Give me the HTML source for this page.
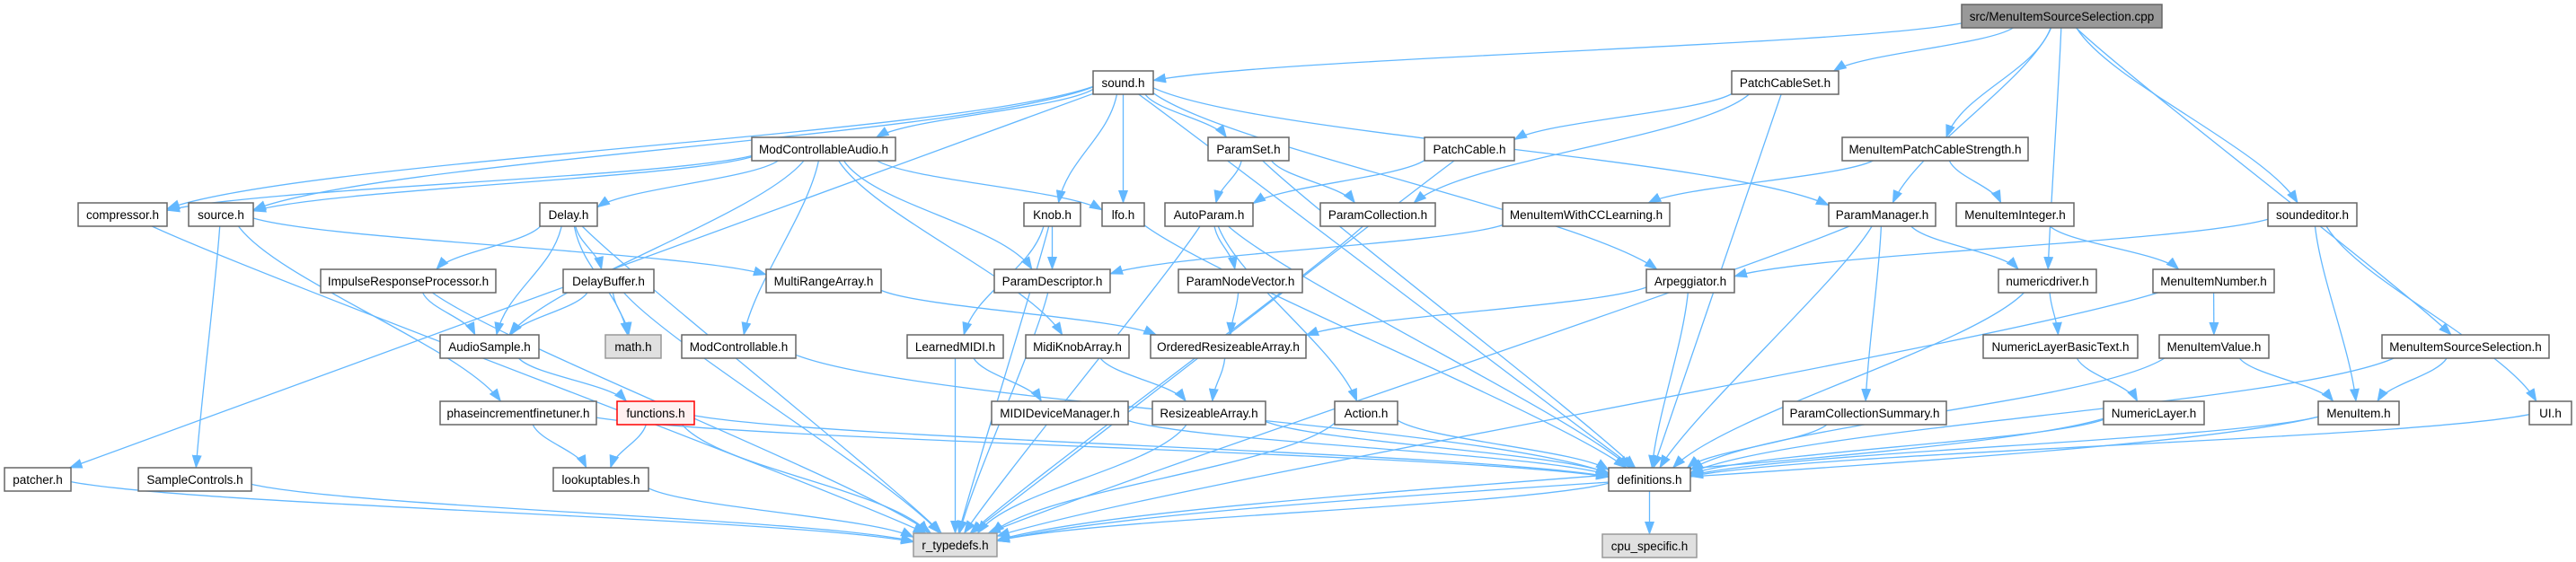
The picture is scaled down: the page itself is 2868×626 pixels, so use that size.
<!DOCTYPE html>
<html><head><meta charset="utf-8"><style>
html,body{margin:0;padding:0;background:#fff;}
svg{display:block;}
text{font-family:"Liberation Sans",Arial,sans-serif;font-size:13.5px;fill:#000;}
</style></head><body>
<svg id="g" width="2868" height="626" viewBox="0 0 2868 626" xmlns="http://www.w3.org/2000/svg">
<defs><marker id="a" markerWidth="15" markerHeight="11" refX="14" refY="5.5" orient="auto" markerUnits="userSpaceOnUse"><path d="M0,0 L15,5.5 L0,11 z" fill="#63b8ff"/></marker></defs>
<g id="edges" fill="none" stroke="#63b8ff" stroke-width="1.3"></g>
<g id="nodes">
<rect x="2184" y="5" width="223" height="26" fill="#999" stroke="#666" stroke-width="1.5"/><text x="2295.5" y="23" text-anchor="middle">src/MenuItemSourceSelection.cpp</text>
<rect x="1217" y="79" width="67" height="26" fill="#fff" stroke="#666" stroke-width="1.5"/><text x="1250.5" y="97" text-anchor="middle">sound.h</text>
<rect x="1928" y="79" width="119" height="26" fill="#fff" stroke="#666" stroke-width="1.5"/><text x="1987.5" y="97" text-anchor="middle">PatchCableSet.h</text>
<rect x="837" y="153" width="160" height="26" fill="#fff" stroke="#666" stroke-width="1.5"/><text x="917" y="171" text-anchor="middle">ModControllableAudio.h</text>
<rect x="1345" y="153" width="90" height="26" fill="#fff" stroke="#666" stroke-width="1.5"/><text x="1390" y="171" text-anchor="middle">ParamSet.h</text>
<rect x="1586" y="153" width="100" height="26" fill="#fff" stroke="#666" stroke-width="1.5"/><text x="1636" y="171" text-anchor="middle">PatchCable.h</text>
<rect x="2051" y="153" width="207" height="26" fill="#fff" stroke="#666" stroke-width="1.5"/><text x="2154.5" y="171" text-anchor="middle">MenuItemPatchCableStrength.h</text>
<rect x="87" y="226" width="99" height="26" fill="#fff" stroke="#666" stroke-width="1.5"/><text x="136.5" y="244" text-anchor="middle">compressor.h</text>
<rect x="210" y="226" width="72" height="26" fill="#fff" stroke="#666" stroke-width="1.5"/><text x="246" y="244" text-anchor="middle">source.h</text>
<rect x="601" y="226" width="64" height="26" fill="#fff" stroke="#666" stroke-width="1.5"/><text x="633" y="244" text-anchor="middle">Delay.h</text>
<rect x="1140" y="226" width="63" height="26" fill="#fff" stroke="#666" stroke-width="1.5"/><text x="1171.5" y="244" text-anchor="middle">Knob.h</text>
<rect x="1227" y="226" width="47" height="26" fill="#fff" stroke="#666" stroke-width="1.5"/><text x="1250.5" y="244" text-anchor="middle">lfo.h</text>
<rect x="1297" y="226" width="98" height="26" fill="#fff" stroke="#666" stroke-width="1.5"/><text x="1346" y="244" text-anchor="middle">AutoParam.h</text>
<rect x="1470" y="226" width="128" height="26" fill="#fff" stroke="#666" stroke-width="1.5"/><text x="1534" y="244" text-anchor="middle">ParamCollection.h</text>
<rect x="1673" y="226" width="186" height="26" fill="#fff" stroke="#666" stroke-width="1.5"/><text x="1766" y="244" text-anchor="middle">MenuItemWithCCLearning.h</text>
<rect x="2036" y="226" width="119" height="26" fill="#fff" stroke="#666" stroke-width="1.5"/><text x="2095.5" y="244" text-anchor="middle">ParamManager.h</text>
<rect x="2178" y="226" width="131" height="26" fill="#fff" stroke="#666" stroke-width="1.5"/><text x="2243.5" y="244" text-anchor="middle">MenuItemInteger.h</text>
<rect x="2525" y="226" width="99" height="26" fill="#fff" stroke="#666" stroke-width="1.5"/><text x="2574.5" y="244" text-anchor="middle">soundeditor.h</text>
<rect x="357" y="300" width="195" height="26" fill="#fff" stroke="#666" stroke-width="1.5"/><text x="454.5" y="318" text-anchor="middle">ImpulseResponseProcessor.h</text>
<rect x="627" y="300" width="101" height="26" fill="#fff" stroke="#666" stroke-width="1.5"/><text x="677.5" y="318" text-anchor="middle">DelayBuffer.h</text>
<rect x="853" y="300" width="128" height="26" fill="#fff" stroke="#666" stroke-width="1.5"/><text x="917" y="318" text-anchor="middle">MultiRangeArray.h</text>
<rect x="1107" y="300" width="129" height="26" fill="#fff" stroke="#666" stroke-width="1.5"/><text x="1171.5" y="318" text-anchor="middle">ParamDescriptor.h</text>
<rect x="1312" y="300" width="138" height="26" fill="#fff" stroke="#666" stroke-width="1.5"/><text x="1381" y="318" text-anchor="middle">ParamNodeVector.h</text>
<rect x="1833" y="300" width="98" height="26" fill="#fff" stroke="#666" stroke-width="1.5"/><text x="1882" y="318" text-anchor="middle">Arpeggiator.h</text>
<rect x="2225" y="300" width="109" height="26" fill="#fff" stroke="#666" stroke-width="1.5"/><text x="2279.5" y="318" text-anchor="middle">numericdriver.h</text>
<rect x="2397" y="300" width="135" height="26" fill="#fff" stroke="#666" stroke-width="1.5"/><text x="2464.5" y="318" text-anchor="middle">MenuItemNumber.h</text>
<rect x="490" y="373" width="110" height="26" fill="#fff" stroke="#666" stroke-width="1.5"/><text x="545" y="391" text-anchor="middle">AudioSample.h</text>
<rect x="674" y="373" width="62" height="26" fill="#e0e0e0" stroke="#999" stroke-width="1.5"/><text x="705" y="391" text-anchor="middle">math.h</text>
<rect x="759" y="373" width="127" height="26" fill="#fff" stroke="#666" stroke-width="1.5"/><text x="822.5" y="391" text-anchor="middle">ModControllable.h</text>
<rect x="1010" y="373" width="107" height="26" fill="#fff" stroke="#666" stroke-width="1.5"/><text x="1063.5" y="391" text-anchor="middle">LearnedMIDI.h</text>
<rect x="1142" y="373" width="115" height="26" fill="#fff" stroke="#666" stroke-width="1.5"/><text x="1199.5" y="391" text-anchor="middle">MidiKnobArray.h</text>
<rect x="1281" y="373" width="173" height="26" fill="#fff" stroke="#666" stroke-width="1.5"/><text x="1367.5" y="391" text-anchor="middle">OrderedResizeableArray.h</text>
<rect x="2208" y="373" width="172" height="26" fill="#fff" stroke="#666" stroke-width="1.5"/><text x="2294" y="391" text-anchor="middle">NumericLayerBasicText.h</text>
<rect x="2404" y="373" width="122" height="26" fill="#fff" stroke="#666" stroke-width="1.5"/><text x="2465" y="391" text-anchor="middle">MenuItemValue.h</text>
<rect x="2652" y="373" width="186" height="26" fill="#fff" stroke="#666" stroke-width="1.5"/><text x="2745" y="391" text-anchor="middle">MenuItemSourceSelection.h</text>
<rect x="490" y="447" width="174" height="26" fill="#fff" stroke="#666" stroke-width="1.5"/><text x="577" y="465" text-anchor="middle">phaseincrementfinetuner.h</text>
<rect x="687" y="447" width="86" height="26" fill="#fff0f0" stroke="#f00" stroke-width="1.5"/><text x="730" y="465" text-anchor="middle">functions.h</text>
<rect x="1104" y="447" width="152" height="26" fill="#fff" stroke="#666" stroke-width="1.5"/><text x="1180" y="465" text-anchor="middle">MIDIDeviceManager.h</text>
<rect x="1283" y="447" width="126" height="26" fill="#fff" stroke="#666" stroke-width="1.5"/><text x="1346" y="465" text-anchor="middle">ResizeableArray.h</text>
<rect x="1486" y="447" width="70" height="26" fill="#fff" stroke="#666" stroke-width="1.5"/><text x="1521" y="465" text-anchor="middle">Action.h</text>
<rect x="1985" y="447" width="182" height="26" fill="#fff" stroke="#666" stroke-width="1.5"/><text x="2076" y="465" text-anchor="middle">ParamCollectionSummary.h</text>
<rect x="2342" y="447" width="112" height="26" fill="#fff" stroke="#666" stroke-width="1.5"/><text x="2398" y="465" text-anchor="middle">NumericLayer.h</text>
<rect x="2581" y="447" width="90" height="26" fill="#fff" stroke="#666" stroke-width="1.5"/><text x="2626" y="465" text-anchor="middle">MenuItem.h</text>
<rect x="2816" y="447" width="47" height="26" fill="#fff" stroke="#666" stroke-width="1.5"/><text x="2839.5" y="465" text-anchor="middle">UI.h</text>
<rect x="5" y="521" width="74" height="26" fill="#fff" stroke="#666" stroke-width="1.5"/><text x="42" y="539" text-anchor="middle">patcher.h</text>
<rect x="154" y="521" width="126" height="26" fill="#fff" stroke="#666" stroke-width="1.5"/><text x="217" y="539" text-anchor="middle">SampleControls.h</text>
<rect x="616" y="521" width="106" height="26" fill="#fff" stroke="#666" stroke-width="1.5"/><text x="669" y="539" text-anchor="middle">lookuptables.h</text>
<rect x="1791" y="521" width="91" height="26" fill="#fff" stroke="#666" stroke-width="1.5"/><text x="1836.5" y="539" text-anchor="middle">definitions.h</text>
<rect x="1017" y="594" width="93" height="26" fill="#e0e0e0" stroke="#999" stroke-width="1.5"/><text x="1063.5" y="612" text-anchor="middle">r_typedefs.h</text>
<rect x="1784" y="595" width="105" height="26" fill="#e0e0e0" stroke="#999" stroke-width="1.5"/><text x="1836.5" y="613" text-anchor="middle">cpu_specific.h</text>
</g>
</svg>
<script>
var N={src:[2184,5,223],sound:[1217,79,67],pcs:[1928,79,119],mca:[837,153,160],pset:[1345,153,90],pc:[1586,153,100],mipcs:[2051,153,207],
comp:[87,226,99],source:[210,226,72],delay:[601,226,64],knob:[1140,226,63],lfo:[1227,226,47],ap:[1297,226,98],pcol:[1470,226,128],mcc:[1673,226,186],pm:[2036,226,119],mii:[2178,226,131],se:[2525,226,99],
irp:[357,300,195],db:[627,300,101],mra:[853,300,128],pd:[1107,300,129],pnv:[1312,300,138],arp:[1833,300,98],nd:[2225,300,109],min:[2397,300,135],
as:[490,373,110],math:[674,373,62],mc:[759,373,127],lm:[1010,373,107],mka:[1142,373,115],ora:[1281,373,173],nlbt:[2208,373,172],miv:[2404,373,122],miss:[2652,373,186],
pift:[490,447,174],fn:[687,447,86],mdm:[1104,447,152],ra:[1283,447,126],act:[1486,447,70],pcsum:[1985,447,182],nl:[2342,447,112],mi:[2581,447,90],ui:[2816,447,47],
pat:[5,521,74],sc:[154,521,126],lut:[616,521,106],def:[1791,521,91],rt:[1017,594,93],cpu:[1784,595,105]};
var E=[["src","sound"],["src","pcs"],["src","mipcs"],["src","pm"],["src","nd"],["src","se"],["src","miss"],
["sound","pat"],["sound","comp"],["sound","source"],["sound","mca"],["sound","knob"],["sound","lfo"],["sound","pset"],["sound","pm"],["sound","arp"],["sound","def"],
["mca","comp"],["mca","source"],["mca","as"],["mca","delay"],["mca","mc"],["mca","mka"],["mca","pd"],["mca","lfo"],
["comp","rt"],["source","mra"],["source","pift"],["source","sc"],
["delay","irp"],["delay","as"],["delay","db"],["delay","math"],["delay","rt"],
["irp","as"],["irp","rt"],["db","as"],["db","math"],["db","rt"],["as","fn"],
["fn","lut"],["fn","rt"],["fn","def"],["pift","lut"],["pift","def"],["lut","rt"],["pat","rt"],["sc","rt"],
["mra","ora"],["mc","def"],["knob","pd"],["knob","lm"],["knob","rt"],["lfo","def"],
["pset","ap"],["pset","pcol"],["pset","def"],["ap","pnv"],["ap","act"],["ap","rt"],["ap","def"],
["pd","rt"],["pnv","ora"],["ora","ra"],["lm","mdm"],["lm","rt"],["mka","ra"],["mdm","def"],["ra","def"],["ra","rt"],
["act","def"],["act","rt"],["pcs","pc"],["pcs","pcol"],["pcs","def"],["pc","ap"],["pc","rt"],["pcol","rt"],
["mipcs","mcc"],["mipcs","mii"],["mcc","pd"],["pm","nd"],["pm","pcsum"],["pm","def"],["pm","rt"],
["arp","ora"],["arp","def"],["mii","min"],["se","arp"],["se","mi"],["se","ui"],
["nd","nlbt"],["nd","def"],["min","miv"],["min","rt"],["nlbt","nl"],["miv","mi"],["miv","def"],
["miss","mi"],["miss","def"],["nl","def"],["nl","rt"],["mi","def"],["mi","rt"],["ui","def"],["pcsum","def"],
["def","cpu"],["def","rt"]];
function box(n){var b=N[n];return {x:b[0],y:b[1],w:b[2],h:26,cx:b[0]+b[2]/2,cy:b[1]+13};}
function edgePt(B,tx,ty){var dx=tx-B.cx,dy=ty-B.cy;var sx=dx?(B.w/2)/Math.abs(dx):1e9,sy=dy?(B.h/2)/Math.abs(dy):1e9;var s=Math.min(sx,sy);return [B.cx+dx*s,B.cy+dy*s];}
var g=document.getElementById("edges"),h="";
E.forEach(function(e){var A=box(e[0]),B=box(e[1]);
var p=edgePt(A,B.cx,B.cy),q=edgePt(B,A.cx,A.cy);
var dy=q[1]-p[1];var k=Math.min(Math.abs(dy)*0.4,60);
var c1=[p[0]+(q[0]-p[0])*0.15,p[1]+k],c2=[q[0]-(q[0]-p[0])*0.15,q[1]-k];
h+='<path d="M'+p[0].toFixed(1)+','+p[1].toFixed(1)+' C'+c1[0].toFixed(1)+','+c1[1].toFixed(1)+' '+c2[0].toFixed(1)+','+c2[1].toFixed(1)+' '+q[0].toFixed(1)+','+q[1].toFixed(1)+'" marker-end="url(#a)"/>';});
g.innerHTML=h;
</script>
</body></html>
